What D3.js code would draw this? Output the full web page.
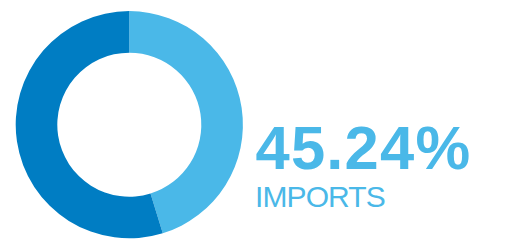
<!DOCTYPE html>
<html><head><meta charset="utf-8">
<script src="https://cdn.jsdelivr.net/npm/d3@7"></script>
<style>html,body{margin:0;padding:0;background:#fff;}svg{display:block;}</style>
</head><body>
<script>
const categories = ["Imports", "Other"];
const values = [45.24, 54.76];
const colors = ["#4ab8e8", "#007dc3"];
const labelValue = "45.24%";
const labelText = "IMPORTS";

const W = 509, H = 244;
const svg = d3.select("body").append("svg").attr("width", W).attr("height", H);
const cx = 129.3, cy = 124.7, rOuter = 113.6, rInner = 72;
const pie = d3.pie().sort(null).value(d => d);
const arc = d3.arc().innerRadius(rInner).outerRadius(rOuter);
const color = d3.scaleOrdinal().domain(categories).range(colors);
svg.append("g").attr("transform", `translate(${cx},${cy})`)
  .selectAll("path").data(pie(values)).join("path")
  .attr("d", arc).attr("fill", (d, i) => color(categories[i]));

svg.append("text").attr("x", 255.5).attr("y", 168.5)
  .attr("font-family", "Liberation Sans, Arial, sans-serif").attr("font-weight", "bold")
  .attr("font-size", 61.5).attr("letter-spacing", 1.2).attr("fill", colors[0]).text(labelValue);
svg.append("text").attr("x", 255).attr("y", 206.5)
  .attr("font-family", "Liberation Sans, Arial, sans-serif")
  .attr("font-size", 30).attr("letter-spacing", -0.9).attr("fill", colors[0]).text(labelText);
</script>
</body></html>
